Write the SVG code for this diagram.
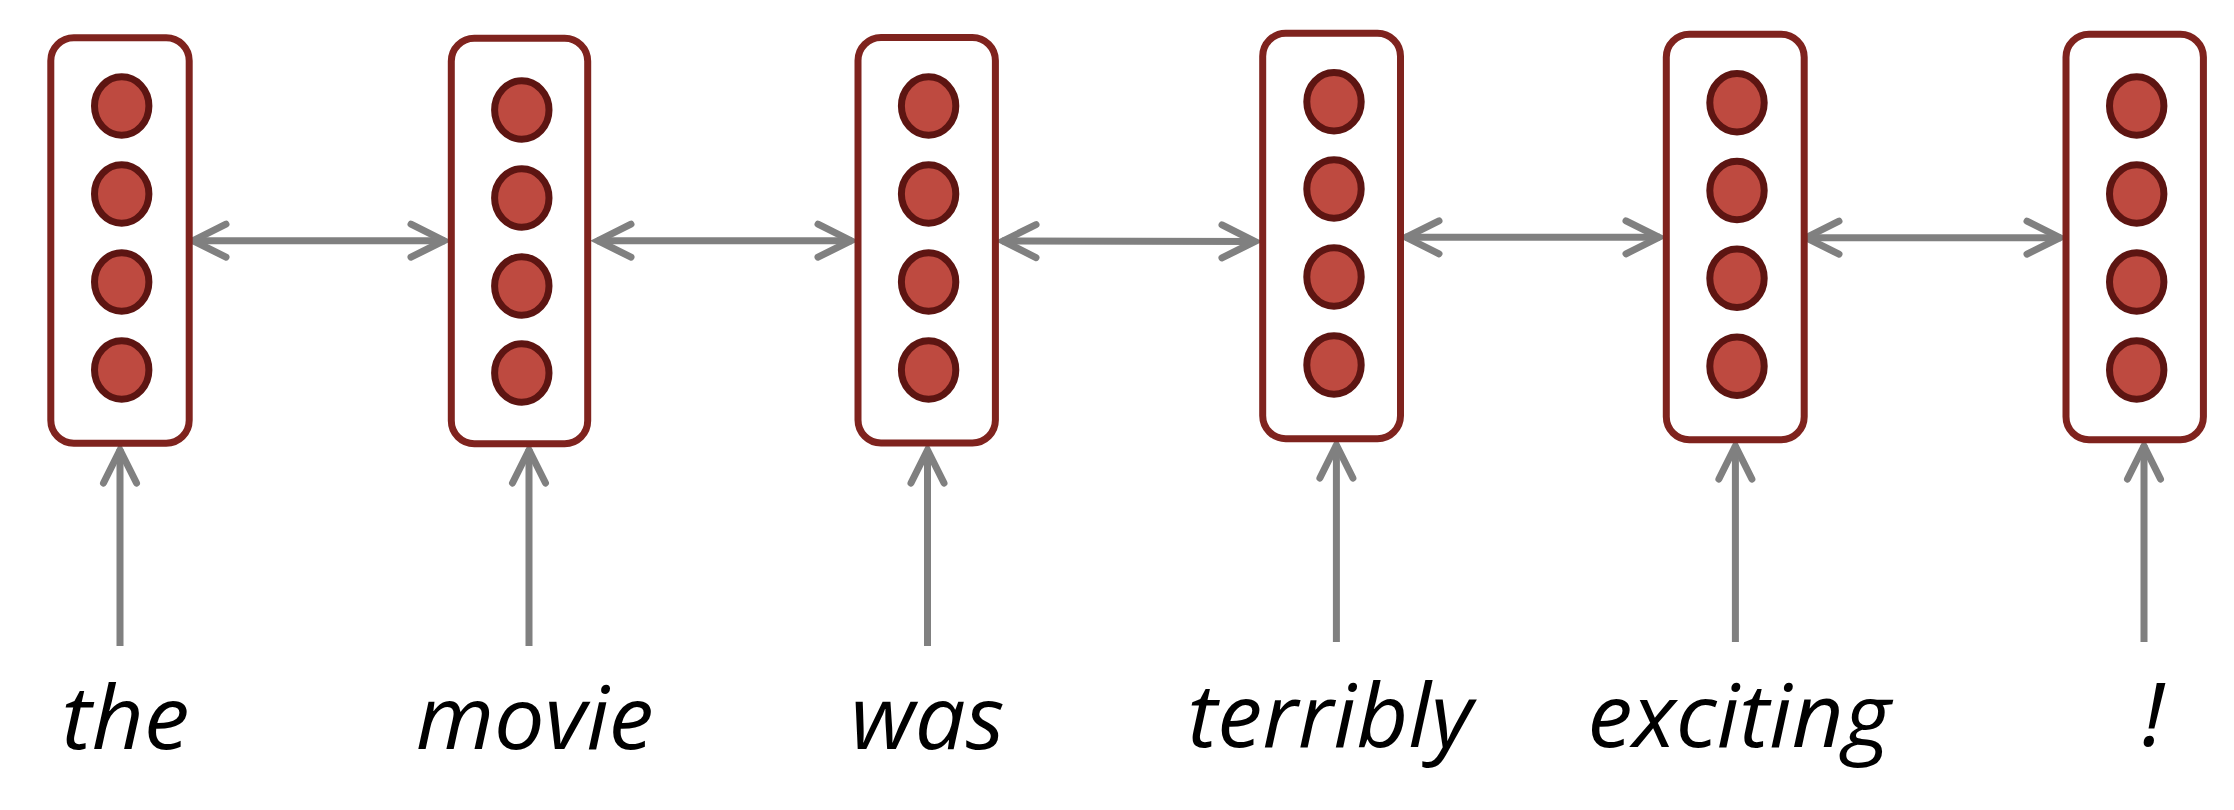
<svg xmlns="http://www.w3.org/2000/svg" width="2234" height="810" viewBox="0 0 2234 810">
<style>
.box{fill:#ffffff;stroke:#7f231e;stroke-width:7}
.unit{fill:#be4a40;stroke:#5d1512;stroke-width:7}
.conn{stroke:#808080;stroke-width:7;fill:none}
.word{font-family:"Open Sans","Noto Sans",sans-serif;font-style:italic;font-size:88px;fill:#000000;text-anchor:middle}
</style>
<defs>
<marker id="chev" markerUnits="userSpaceOnUse" orient="auto-start-reverse" refX="0" refY="0" markerWidth="60" markerHeight="60" overflow="visible">
<path d="M -34 -16.5 L -1 0 L -34 16.5" fill="none" stroke="#808080" stroke-width="7" stroke-linecap="round" stroke-linejoin="miter"/>
</marker>
</defs>
<rect width="2234" height="810" fill="#ffffff"/>
<g id="connectors">
<line class="conn" x1="192" y1="240.7" x2="445" y2="240.7" marker-start="url(#chev)" marker-end="url(#chev)"/>
<line class="conn" x1="597" y1="240.7" x2="852" y2="240.7" marker-start="url(#chev)" marker-end="url(#chev)"/>
<line class="conn" x1="1002" y1="241" x2="1256" y2="241.5" marker-start="url(#chev)" marker-end="url(#chev)"/>
<line class="conn" x1="1405" y1="237.3" x2="1660" y2="237.3" marker-start="url(#chev)" marker-end="url(#chev)"/>
<line class="conn" x1="1805" y1="237.7" x2="2061" y2="237.7" marker-start="url(#chev)" marker-end="url(#chev)"/>
<line class="conn" x1="120" y1="646" x2="120" y2="449" marker-end="url(#chev)"/>
<line class="conn" x1="529" y1="646" x2="529" y2="449" marker-end="url(#chev)"/>
<line class="conn" x1="927.5" y1="646" x2="927.5" y2="449" marker-end="url(#chev)"/>
<line class="conn" x1="1336.4" y1="642" x2="1336.4" y2="444" marker-end="url(#chev)"/>
<line class="conn" x1="1735.4" y1="642" x2="1735.4" y2="445" marker-end="url(#chev)"/>
<line class="conn" x1="2144" y1="642" x2="2144" y2="445" marker-end="url(#chev)"/>
</g>
<g id="node-the">
<rect class="box" x="50.8" y="37.8" width="138.4" height="405.4" rx="23"/>
<ellipse class="unit" cx="121.7" cy="106" rx="27.2" ry="29.2"/>
<ellipse class="unit" cx="121.7" cy="194" rx="27.2" ry="29.2"/>
<ellipse class="unit" cx="121.7" cy="282" rx="27.2" ry="29.2"/>
<ellipse class="unit" cx="121.7" cy="370" rx="27.2" ry="29.2"/>
<text class="word" x="125.5" y="749" textLength="128" lengthAdjust="spacingAndGlyphs">the</text>
</g>
<g id="node-movie">
<rect class="box" x="451.3" y="38.3" width="136.4" height="405.4" rx="23"/>
<ellipse class="unit" cx="521.8" cy="110" rx="27.2" ry="29.2"/>
<ellipse class="unit" cx="521.8" cy="198" rx="27.2" ry="29.2"/>
<ellipse class="unit" cx="521.8" cy="286" rx="27.2" ry="29.2"/>
<ellipse class="unit" cx="521.8" cy="373" rx="27.2" ry="29.2"/>
<text class="word" x="534.7" y="749" textLength="238" lengthAdjust="spacingAndGlyphs">movie</text>
</g>
<g id="node-was">
<rect class="box" x="858" y="37.6" width="137.4" height="405.4" rx="23"/>
<ellipse class="unit" cx="928.6" cy="106" rx="27.2" ry="29.2"/>
<ellipse class="unit" cx="928.6" cy="194" rx="27.2" ry="29.2"/>
<ellipse class="unit" cx="928.6" cy="282" rx="27.2" ry="29.2"/>
<ellipse class="unit" cx="928.6" cy="370" rx="27.2" ry="29.2"/>
<text class="word" x="927.5" y="749" textLength="154" lengthAdjust="spacingAndGlyphs">was</text>
</g>
<g id="node-terribly">
<rect class="box" x="1262.7" y="33.3" width="137.8" height="405.4" rx="23"/>
<ellipse class="unit" cx="1334" cy="101.7" rx="27.2" ry="29.2"/>
<ellipse class="unit" cx="1334" cy="189" rx="27.2" ry="29.2"/>
<ellipse class="unit" cx="1334" cy="277" rx="27.2" ry="29.2"/>
<ellipse class="unit" cx="1334" cy="365" rx="27.2" ry="29.2"/>
<text class="word" x="1330" y="747" textLength="285" lengthAdjust="spacingAndGlyphs">terribly</text>
</g>
<g id="node-exciting">
<rect class="box" x="1666.3" y="34.3" width="137.9" height="405.4" rx="23"/>
<ellipse class="unit" cx="1737" cy="102.7" rx="27.2" ry="29.2"/>
<ellipse class="unit" cx="1737" cy="190.5" rx="27.2" ry="29.2"/>
<ellipse class="unit" cx="1737" cy="278.3" rx="27.2" ry="29.2"/>
<ellipse class="unit" cx="1737" cy="366.3" rx="27.2" ry="29.2"/>
<text class="word" x="1739" y="747" textLength="303" lengthAdjust="spacingAndGlyphs">exciting</text>
</g>
<g id="node-excl">
<rect class="box" x="2066" y="34.3" width="137.4" height="405.4" rx="23"/>
<ellipse class="unit" cx="2136.7" cy="106" rx="27.2" ry="29.2"/>
<ellipse class="unit" cx="2136.7" cy="194" rx="27.2" ry="29.2"/>
<ellipse class="unit" cx="2136.7" cy="282" rx="27.2" ry="29.2"/>
<ellipse class="unit" cx="2136.7" cy="370" rx="27.2" ry="29.2"/>
<text class="word" x="2153" y="746">!</text>
</g>
</svg>
